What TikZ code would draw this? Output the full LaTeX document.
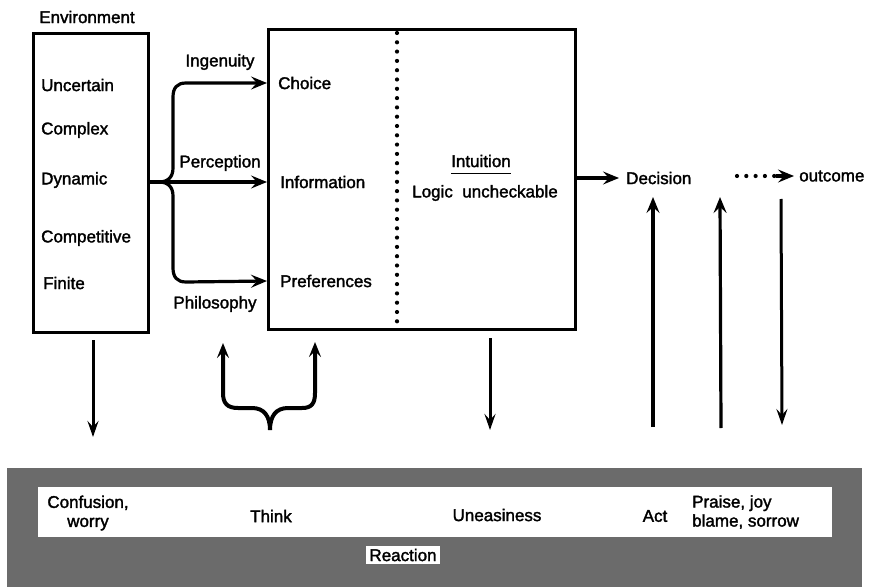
\documentclass[tikz,border=0pt]{standalone}
\usepackage{fontspec}
\setmainfont{Liberation Sans}[FakeBold=1.8]
\newfontfamily\medfont{Liberation Sans}[FakeBold=1.8]
\usetikzlibrary{arrows.meta}
\begin{document}
\begin{tikzpicture}[x=1pt,y=-1pt,
  lbl/.style={font=\medfont\fontsize{17}{20}\selectfont, inner sep=0pt},
  box/.style={draw, line width=3pt, inner sep=0pt},
  arr/.style={line width=3.2pt, -{Stealth[length=16pt,width=13pt,inset=6pt]}},
  thinarr/.style={line width=3pt, -{Stealth[length=16pt,width=11pt,inset=6pt]}},
  bracearr/.style={line width=4pt, -{Stealth[length=15pt,width=12pt,inset=6pt]}},
  dotline/.style={line width=4.2pt, line cap=round, dash pattern=on 0pt off 9.3pt},
  plainline/.style={line width=3.2pt}
]
\useasboundingbox (0,0) rectangle (870,588);

% ---------- environment box ----------
\node[lbl] (envlbl) at (87,17) {Environment};
\node[box, minimum width=115pt, minimum height=299pt, anchor=north west] (env) at (32,32) {};
\node[lbl, anchor=west] (unc) at (41,85) {Uncertain};
\node[lbl, anchor=west] (cpx) at (41,130) {Complex};
\node[lbl, anchor=west] (dyn) at (41,180) {Dynamic};
\node[lbl, anchor=west] (cmp) at (41,238) {Competitive};
\node[lbl, anchor=west] (fin) at (43,283) {Finite};

% ---------- main box ----------
\node[box, minimum width=307pt, minimum height=300pt, anchor=north west] (main) at (267,28) {};
\node[lbl, anchor=west] (choice) at (278,83) {Choice};
\node[lbl, anchor=west] (info) at (280,182) {Information};
\node[lbl, anchor=west] (pref) at (280,281) {Preferences};
\draw[dotline] (397,33) -- (397,325);
\node[lbl] (intu) at (481,161) {Intuition};
\draw[line width=1.8pt] ([yshift=-6pt]intu.south west) -- ([yshift=-6pt]intu.south east);
\node[lbl] (logic) at (485,193) {Logic\ \ uncheckable};

% ---------- labels of the brace ----------
\node[lbl] (ing) at (220,62) {Ingenuity};
\node[lbl] (perc) at (220,163) {Perception};
\node[lbl] (phil) at (215,304) {Philosophy};

% ---------- brace from environment ----------
\coordinate (j) at (159,182);
\draw[plainline] (env.east |- j) -- (j);
\draw[arr] (j) .. controls (168,182) and (173,177) .. (173,168) -- (173,97)
  .. controls (173,88) and (177,83) .. (186,83) -- (main.west |- choice);
\draw[arr] (j) -- (main.west |- info);
\draw[arr] (j) .. controls (168,182) and (173,187) .. (173,196) -- (173,268)
  .. controls (173,277) and (177,282) .. (186,282) -- (main.west |- pref);

% ---------- decision / outcome ----------
\node[lbl, anchor=west] (dec) at (626,178) {Decision};
\node[lbl, anchor=west] (out) at (799,176) {outcome};
\draw[arr] (main.east |- dec) -- ([xshift=-7pt]dec.west);
\coordinate (dstart) at (737,176);
\draw[dotline] (dstart) -- (776,176);
\draw[arr] (776,176) -- ([xshift=-5pt]out.west);

% ---------- vertical arrows ----------
\coordinate (a1s) at (93,340);  \coordinate (a1e) at (93,437);
\draw[thinarr] (a1s) -- (a1e);

\coordinate (thk) at (270,430);
\coordinate (tl) at (223,343);
\coordinate (tr) at (315,342);
\draw[bracearr] (thk) .. controls (270,416) and (264,408) .. (252,408) -- (238,408)
  .. controls (227,408) and (223,403) .. (223,393) -- (tl);
\draw[bracearr] (thk) .. controls (270,416) and (276,408) .. (288,408) -- (302,408)
  .. controls (312,408) and (315,403) .. (315,393) -- (tr);

\coordinate (a3s) at (490,338); \coordinate (a3e) at (490,430);
\draw[thinarr] (a3s) -- (a3e);

\coordinate (u1s) at (653,427); \coordinate (u1e) at (653,197);
\draw[arr] (u1s) -- (u1e);
\coordinate (u2s) at (721,428); \coordinate (u2e) at (720,197);
\draw[arr] (u2s) -- (u2e);
\coordinate (d4s) at (781,199); \coordinate (d4e) at (782,425);
\draw[thinarr] (d4s) -- (d4e);

% ---------- reaction band ----------
\node[fill=black!58, inner sep=0pt, minimum width=855pt, minimum height=119pt, anchor=north west] (band) at (7,468) {};
\node[fill=white, inner sep=0pt, minimum width=794pt, minimum height=50pt, anchor=north west] (strip) at (38,487) {};
\node[lbl, align=center] (conf) at (88,513) {Confusion,\\[-1pt]worry};
\node[lbl] (think) at (271,516) {Think};
\node[lbl] (uneas) at (497,515) {Uneasiness};
\node[lbl] (act) at (655,516) {Act};
\node[lbl, align=left, anchor=west] (praise) at (692,512) {Praise,\ joy\\[-1pt]blame,\ sorrow};
\node[lbl, fill=white, inner sep=3pt] (react) at (403,555) {Reaction};
\end{tikzpicture}
\end{document}
